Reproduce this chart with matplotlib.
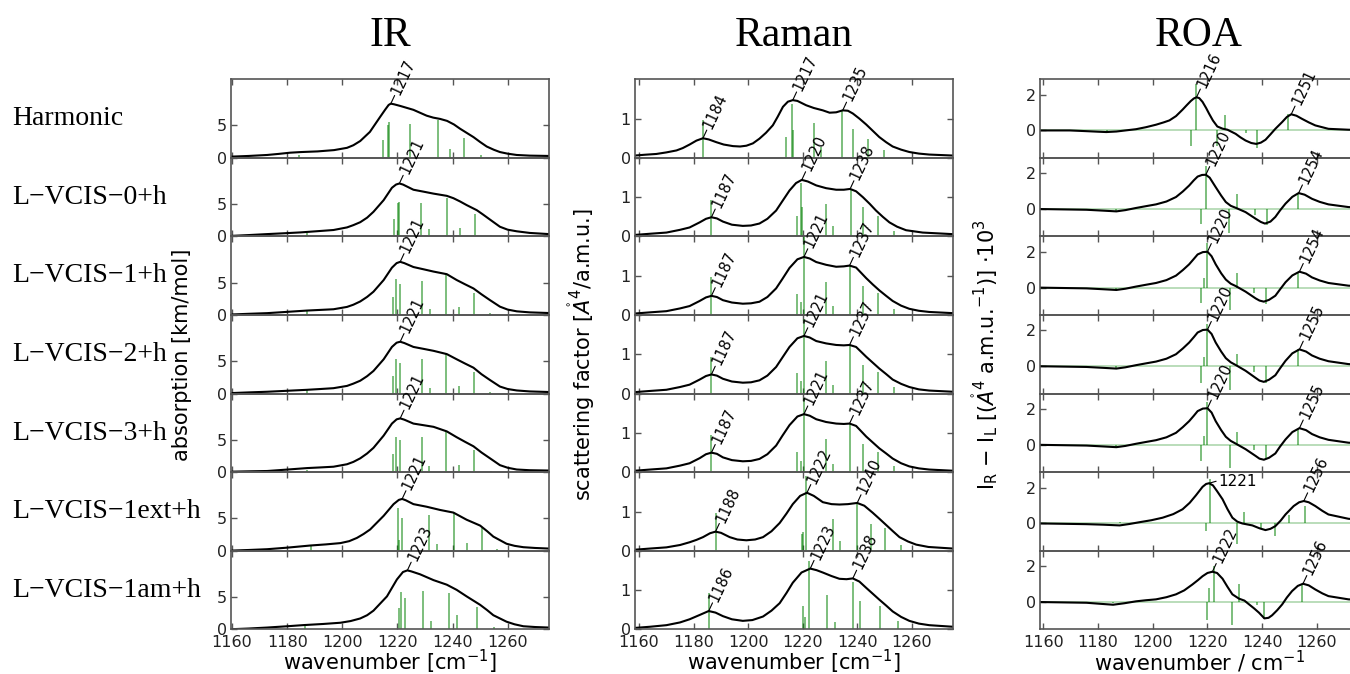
import numpy as np
import matplotlib.pyplot as plt

# ---------------------------------------------------------------- data
row_names = ['Harmonic', 'L\u2212VCIS\u22120+h', 'L\u2212VCIS\u22121+h', 'L\u2212VCIS\u22122+h',
             'L\u2212VCIS\u22123+h', 'L\u2212VCIS\u22121ext+h', 'L\u2212VCIS\u22121am+h']

# IR: broadened spectrum
ir_x_mid = [1160, 1166, 1172.7, 1180, 1187.2, 1192, 1196.8, 1201.7, 1204, 1206.5, 1209, 1211.3, 1215,
            1218, 1219.7, 1221, 1222.5, 1225.8, 1229.5, 1233.1, 1237.9, 1241.5, 1244.5, 1247.6, 1250.5,
            1253.6, 1257.2, 1260, 1263.3, 1268, 1275]
ir_curve_x = [
    [1160, 1166, 1172.7, 1177, 1181, 1185, 1191, 1197, 1201.7, 1204, 1206.5, 1210, 1213.7, 1215.5, 1216.8,
     1217.6, 1218.8, 1221, 1225.8, 1230.6, 1233, 1235.5, 1238, 1240.5, 1242.7, 1247.6, 1250, 1252.4, 1255,
     1257.2, 1260, 1263.3, 1268, 1275],
    [1160, 1166, 1172.7, 1179, 1184.8, 1188.4, 1192, 1196.8, 1201.7, 1204, 1206.5, 1209, 1211.3, 1215, 1218,
     1219.5, 1220.7, 1222, 1225.8, 1229.5, 1233.1, 1237.9, 1240.3, 1242.7, 1245.1, 1248.8, 1251, 1253.6,
     1257.2, 1260, 1263.3, 1268, 1275],
    ir_x_mid,
    ir_x_mid,
    ir_x_mid,
    [1160, 1166, 1172.7, 1180, 1188.4, 1194, 1199.3, 1202.5, 1205.3, 1207.7, 1210.1, 1215, 1218.6, 1220.5,
     1221.7, 1223, 1225.8, 1230.6, 1235.5, 1240.3, 1245.1, 1250, 1252.5, 1254.8, 1259.6, 1262.5, 1265.7,
     1270, 1275],
    [1160, 1166, 1172.7, 1180, 1186, 1193, 1199.3, 1203, 1206.5, 1209, 1211.3, 1216.2, 1219.8, 1222, 1223.6,
     1225, 1228.2, 1233.1, 1237.9, 1241.5, 1245.1, 1250, 1252.5, 1254.8, 1259.6, 1262.5, 1265.7, 1270, 1275],
]
ir_curve_y = [
    [0.2, 0.3, 0.45, 0.62, 0.8, 0.9, 1.0, 1.2, 1.55, 1.95, 2.6, 4.0, 6.3, 7.4, 8.15, 8.35, 8.25, 8.0, 7.4,
     6.5, 6.2, 6.0, 5.7, 5.15, 4.5, 3.2, 2.45, 1.75, 1.25, 0.9, 0.65, 0.45, 0.35, 0.3],
    [0.1, 0.22, 0.37, 0.5, 0.63, 0.74, 0.85, 1.0, 1.4, 1.75, 2.2, 2.9, 3.8, 5.6, 7.5, 8.0, 8.16, 8.0, 7.2,
     6.9, 6.6, 6.26, 5.9, 5.4, 4.84, 4.05, 3.4, 2.6, 1.5, 1.05, 0.8, 0.55, 0.37],
    [0.1, 0.2, 0.3, 0.5, 0.7, 0.8, 0.9, 1.26, 1.6, 2.1, 2.8, 3.6, 5.4, 7.3, 8.0, 8.2, 8.0, 7.4, 7.05, 6.7,
     6.3, 5.4, 4.75, 4.1, 3.2, 2.3, 1.3, 0.85, 0.58, 0.42, 0.32],
    [0.1, 0.2, 0.3, 0.45, 0.6, 0.72, 0.85, 1.2, 1.55, 2.0, 2.7, 3.5, 5.3, 7.2, 7.85, 8.0, 7.8, 7.2, 6.9, 6.6,
     6.1, 5.3, 4.65, 4.0, 3.0, 2.1, 1.1, 0.72, 0.5, 0.35, 0.26],
    [0.1, 0.15, 0.2, 0.42, 0.65, 0.75, 0.86, 1.24, 1.6, 2.15, 2.9, 3.76, 5.65, 7.5, 8.15, 8.3, 8.1, 7.5, 7.25,
     7.0, 6.3, 5.4, 4.7, 4.0, 3.05, 2.15, 1.1, 0.7, 0.43, 0.32, 0.27],
    [0.05, 0.14, 0.26, 0.5, 0.83, 1.0, 1.2, 1.5, 2.0, 2.6, 3.3, 5.4, 7.2, 7.85, 8.0, 7.8, 7.2, 6.8, 6.3, 5.9,
     4.8, 3.9, 3.05, 2.2, 1.1, 0.78, 0.57, 0.45, 0.36],
    [0.05, 0.15, 0.3, 0.5, 0.68, 0.85, 1.04, 1.3, 1.7, 2.2, 2.9, 5.1, 7.7, 8.85, 9.1, 8.95, 8.5, 7.6, 6.9,
     6.1, 5.1, 3.8, 3.0, 2.2, 1.2, 0.8, 0.5, 0.38, 0.3],
]
ir_stick_pos = [
    [1184.4, 1214.7, 1216.5, 1217.0, 1224.6, 1234.9, 1238.9, 1244.2, 1250.3],
    [1187.2, 1218.6, 1220.1, 1220.5, 1228.6, 1231.5, 1238.0, 1242.6, 1248.0, 1253.8],
    [1187.2, 1218.3, 1219.5, 1220.9, 1228.8, 1231.7, 1237.7, 1242.4, 1247.8, 1253.7],
    [1187.2, 1218.3, 1219.5, 1220.9, 1228.8, 1231.7, 1237.7, 1242.4, 1247.8, 1253.7],
    [1187.2, 1218.4, 1219.5, 1220.9, 1228.9, 1231.5, 1237.7, 1242.4, 1247.8, 1253.8],
    [1188.7, 1220.1, 1220.6, 1221.7, 1231.5, 1234.2, 1240.6, 1245.4, 1250.6, 1256.1],
    [1186.3, 1220.7, 1221.4, 1222.8, 1229.4, 1232.3, 1238.7, 1241.5, 1248.8, 1255.0],
]
ir_stick_h = [
    [0.5, 2.8, 5.0, 5.5, 5.2, 5.9, 1.3, 3.1, 0.5],
    [0.5, 2.7, 5.2, 5.3, 5.2, 1.1, 6.0, 1.3, 3.5, 0.26],
    [0.7, 2.8, 5.5, 4.8, 5.3, 0.95, 6.1, 1.2, 3.4, 0.26],
    [0.5, 2.7, 5.4, 4.8, 5.3, 0.9, 6.1, 1.2, 3.4, 0.26],
    [0.4, 2.85, 5.5, 5.0, 5.4, 0.9, 6.2, 1.2, 3.5, 0.27],
    [0.7, 6.6, 1.7, 5.0, 5.6, 1.1, 5.9, 1.2, 3.5, 0.3],
    [0.5, 3.3, 5.8, 4.9, 6.0, 1.3, 5.6, 2.2, 3.4, 0.4],
]
ir_peaks = [
    [(1217.6, 8.35, '1217')],
    [(1220.7, 8.16, '1221')],
    [(1221, 8.2, '1221')],
    [(1221, 8.0, '1221')],
    [(1221, 8.3, '1221')],
    [(1221.7, 8.0, '1221')],
    [(1223.6, 9.1, '1223')],
]

# Raman
raman_x_mid = [1158.4, 1164, 1170, 1175, 1178.5, 1182.2, 1184.5, 1186.5, 1188.5, 1190.7, 1194, 1198, 1201,
               1204.1, 1207, 1210.2, 1212.5, 1215.1, 1218, 1220.4, 1222.5, 1224.9, 1228.5, 1232.2, 1235,
               1237.1, 1239.5, 1243.2, 1245.6, 1248, 1250.5, 1252.9, 1256, 1259, 1262.5, 1266.3, 1274.9]
raman_curve_x = [
    [1158.4, 1162, 1166.3, 1170, 1173.7, 1176, 1178.5, 1181, 1183.4, 1185.5, 1188.3, 1191, 1194.4, 1197,
     1199.3, 1201.7, 1204.1, 1206.5, 1209, 1210.8, 1212.7, 1214.5, 1216.3, 1218, 1221.2, 1224, 1227.3,
     1229.8, 1232.2, 1234.6, 1236.5, 1238.3, 1240.7, 1243.2, 1245.6, 1248, 1250.5, 1252.9, 1256, 1259,
     1262.5, 1266.3, 1274.9],
    [1158.4, 1164, 1170, 1175, 1178.5, 1182.2, 1184.5, 1186.5, 1188.5, 1190.7, 1194, 1198, 1201, 1204.1,
     1207, 1210.2, 1212.5, 1215.1, 1217.5, 1219.6, 1221.8, 1224.9, 1228.5, 1232.2, 1235, 1237.3, 1239.5,
     1242, 1244.5, 1246.8, 1249.3, 1251.7, 1254.5, 1257.8, 1263.9, 1274.9],
    raman_x_mid,
    raman_x_mid,
    raman_x_mid,
    [1158.4, 1164, 1170, 1175, 1178.5, 1181, 1183.4, 1186, 1188, 1190, 1193.2, 1196, 1199.3, 1202.5, 1205.4,
     1208.5, 1211.5, 1214, 1216.3, 1219, 1221.5, 1224, 1227.3, 1230.5, 1233.4, 1236.5, 1239.9, 1242.5,
     1245.6, 1248, 1250.5, 1253, 1255.4, 1258.5, 1261.5, 1266, 1274.9],
    [1158.4, 1164, 1170, 1175, 1178.5, 1182.2, 1185.5, 1188, 1190.7, 1194, 1198, 1201.5, 1205.4, 1208.5,
     1211.5, 1214, 1216.3, 1219.5, 1222.7, 1225, 1227.3, 1230.5, 1233.4, 1236, 1238.3, 1240.7, 1243.2,
     1245.6, 1248, 1250.5, 1252.9, 1256, 1259, 1262.5, 1266.3, 1274.9],
]
raman_curve_y = [
    [0.06, 0.08, 0.1, 0.14, 0.19, 0.25, 0.34, 0.44, 0.5, 0.47, 0.4, 0.34, 0.3, 0.29, 0.31, 0.37, 0.49, 0.64,
     0.83, 1.05, 1.3, 1.43, 1.47, 1.45, 1.34, 1.27, 1.21, 1.15, 1.16, 1.21, 1.2, 1.13, 1.0, 0.85, 0.69,
     0.53, 0.4, 0.29, 0.21, 0.15, 0.11, 0.085, 0.06],
    [0.04, 0.07, 0.1, 0.17, 0.23, 0.36, 0.45, 0.49, 0.46, 0.38, 0.3, 0.27, 0.28, 0.33, 0.45, 0.66, 0.9, 1.17,
     1.36, 1.44, 1.4, 1.3, 1.23, 1.19, 1.19, 1.21, 1.15, 1.0, 0.83, 0.66, 0.5, 0.36, 0.25, 0.16, 0.1, 0.06],
    [0.04, 0.07, 0.1, 0.17, 0.23, 0.36, 0.45, 0.49, 0.46, 0.38, 0.32, 0.29, 0.3, 0.34, 0.46, 0.68, 0.92,
     1.2, 1.42, 1.48, 1.44, 1.35, 1.28, 1.23, 1.24, 1.26, 1.21, 0.94, 0.78, 0.63, 0.49, 0.36, 0.24, 0.16,
     0.11, 0.08, 0.05],
    [0.04, 0.07, 0.1, 0.17, 0.23, 0.36, 0.45, 0.49, 0.46, 0.38, 0.31, 0.28, 0.29, 0.34, 0.46, 0.68, 0.92,
     1.19, 1.41, 1.47, 1.43, 1.34, 1.28, 1.24, 1.23, 1.24, 1.19, 0.94, 0.79, 0.64, 0.5, 0.36, 0.25, 0.17,
     0.11, 0.08, 0.05],
    [0.04, 0.07, 0.1, 0.17, 0.23, 0.36, 0.46, 0.5, 0.47, 0.38, 0.31, 0.28, 0.29, 0.34, 0.46, 0.68, 0.93, 1.2,
     1.42, 1.48, 1.44, 1.35, 1.28, 1.24, 1.23, 1.24, 1.18, 0.91, 0.76, 0.61, 0.48, 0.35, 0.23, 0.15, 0.1,
     0.07, 0.04],
    [0.03, 0.06, 0.09, 0.15, 0.22, 0.28, 0.35, 0.45, 0.49, 0.46, 0.35, 0.29, 0.27, 0.29, 0.35, 0.5, 0.71,
     0.95, 1.19, 1.4, 1.48, 1.4, 1.24, 1.19, 1.18, 1.19, 1.22, 1.15, 0.97, 0.82, 0.66, 0.5, 0.35, 0.24,
     0.16, 0.1, 0.06],
    [0.04, 0.07, 0.11, 0.18, 0.26, 0.37, 0.47, 0.43, 0.34, 0.26, 0.22, 0.24, 0.33, 0.48, 0.67, 0.93, 1.19,
     1.45, 1.55, 1.51, 1.45, 1.36, 1.29, 1.28, 1.3, 1.22, 1.06, 0.91, 0.76, 0.61, 0.46, 0.32, 0.22, 0.15,
     0.11, 0.07],
]
raman_pos_mid = [1186.5, 1217.9, 1219.2, 1220.3, 1228.4, 1231.1, 1237.2, 1242.1, 1247.6, 1253.4]
raman_stick_pos = [
    [1183.4, 1214.0, 1215.9, 1216.5, 1223.9, 1226.7, 1234.3, 1238.5, 1243.8, 1249.9],
    [1186.5, 1217.9, 1219.3, 1219.8, 1228.3, 1231.1, 1237.6, 1242.2, 1247.6, 1253.4],
    raman_pos_mid,
    raman_pos_mid,
    raman_pos_mid,
    [1188.0, 1219.8, 1220.0, 1221.2, 1230.9, 1233.5, 1239.9, 1245.1, 1250.2, 1256.0],
    [1185.5, 1220.2, 1220.7, 1222.4, 1228.9, 1231.8, 1238.4, 1241.1, 1248.4, 1254.9],
]
raman_stick_h = [
    [0.96, 0.53, 1.38, 0.72, 0.89, 0.27, 1.21, 0.74, 0.49, 0.21],
    [0.93, 0.52, 1.36, 0.74, 0.83, 0.26, 1.21, 0.74, 0.53, 0.15],
    [0.96, 0.53, 0.33, 2.0, 0.83, 0.23, 1.26, 0.74, 0.55, 0.16],
    [0.94, 0.53, 0.32, 1.9, 0.84, 0.23, 1.24, 0.73, 0.55, 0.17],
    [0.96, 0.52, 0.3, 1.9, 0.84, 0.22, 1.26, 0.72, 0.52, 0.16],
    [0.96, 0.44, 0.47, 1.9, 0.8, 0.25, 1.24, 0.68, 0.58, 0.16],
    [0.93, 0.59, 0.33, 1.75, 0.89, 0.2, 1.2, 0.73, 0.59, 0.22],
]
raman_peaks = [
    [(1183.4, 0.5, '1184'), (1216.3, 1.47, '1217'), (1234.6, 1.21, '1235')],
    [(1186.5, 0.49, '1187'), (1219.6, 1.44, '1220'), (1237.3, 1.21, '1238')],
    [(1186.5, 0.49, '1187'), (1220.4, 1.48, '1221'), (1237.1, 1.26, '1237')],
    [(1186.5, 0.49, '1187'), (1220.4, 1.47, '1221'), (1237.1, 1.24, '1237')],
    [(1186.5, 0.5, '1187'), (1220.4, 1.48, '1221'), (1237.1, 1.24, '1237')],
    [(1188.0, 0.49, '1188'), (1221.5, 1.48, '1222'), (1239.9, 1.22, '1240')],
    [(1185.5, 0.47, '1186'), (1222.7, 1.55, '1223'), (1238.3, 1.3, '1238')],
]

# ROA
roa_x_mid = [1158.8, 1175.8, 1182, 1186.7, 1190, 1193.9, 1197.5, 1201.2, 1205, 1208.5, 1211, 1213.3, 1215,
             1216.4, 1218.3, 1220, 1221.5, 1223, 1225, 1226.7, 1228.5, 1230.3, 1233.9, 1237.6, 1239, 1240.6,
             1242.5, 1244.8, 1246.5, 1248.5, 1251, 1253.6, 1256, 1258.2, 1261, 1264.2, 1271.5, 1276]
roa_curve_x = [
    [1158.8, 1169.7, 1175.8, 1180, 1183, 1186.7, 1190, 1193.9, 1197.5, 1201.2, 1204, 1206.1, 1208.5, 1210.9,
     1212.5, 1213.9, 1215, 1216, 1217, 1218.2, 1219.5, 1220.6, 1222, 1223.6, 1225.5, 1227.3, 1230.3, 1232,
     1233.9, 1236, 1237.8, 1239.5, 1241.2, 1243, 1244.8, 1247.3, 1249, 1250.6, 1252.5, 1254.5, 1257,
     1259.4, 1264.2, 1271.5, 1276],
    [1158.8, 1175.8, 1182, 1186.7, 1190, 1193.9, 1197.5, 1201.2, 1205, 1208.5, 1211, 1213.3, 1215, 1216.4,
     1218, 1219.4, 1220.8, 1223, 1225, 1226.7, 1228.5, 1230.3, 1233.9, 1237.6, 1239.5, 1241, 1243, 1244.8,
     1246.5, 1248.5, 1251, 1253.3, 1255.5, 1258.2, 1261, 1264.2, 1271.5, 1276],
    roa_x_mid,
    roa_x_mid,
    roa_x_mid,
    [1158.8, 1175.8, 1182, 1187.9, 1191.5, 1195.2, 1199.5, 1203.6, 1207.5, 1210.9, 1213.5, 1215.8, 1218.2,
     1219.5, 1220.6, 1222, 1223.5, 1225.5, 1227.3, 1229.1, 1230.9, 1232.7, 1236.4, 1239, 1241.2, 1243,
     1244.8, 1246.7, 1248.5, 1251.5, 1253.5, 1255.2, 1257, 1259.4, 1262, 1264.2, 1271.5, 1276],
    [1158.8, 1175.8, 1181, 1185.5, 1189.5, 1193.9, 1197.5, 1201.2, 1205, 1208.5, 1211.5, 1214.5, 1216.5,
     1218.2, 1220, 1221.8, 1223.5, 1225.5, 1227.3, 1229.1, 1231.5, 1233.5, 1235.2, 1237, 1238.8, 1240.8,
     1242.3, 1243.6, 1245.5, 1247.3, 1249, 1250.9, 1253, 1254.9, 1257, 1259.4, 1262, 1264.2, 1271.5, 1276],
]
roa_curve_y = [
    [0, 0, -0.04, -0.07, -0.09, -0.06, 0.0, 0.07, 0.18, 0.32, 0.45, 0.56, 0.8, 1.16, 1.42, 1.64, 1.78, 1.85,
     1.8, 1.59, 1.25, 0.93, 0.55, 0.22, 0.1, 0.04, -0.19, -0.38, -0.56, -0.7, -0.75, -0.68, -0.52, -0.22,
     0.09, 0.47, 0.75, 0.9, 0.82, 0.65, 0.45, 0.28, 0.09, 0.04, 0.03],
    [0, -0.04, -0.09, -0.13, -0.06, 0.06, 0.16, 0.26, 0.42, 0.67, 0.98, 1.31, 1.6, 1.81, 1.9, 1.91, 1.75,
     1.22, 0.75, 0.39, 0.18, 0.07, -0.17, -0.54, -0.72, -0.81, -0.7, -0.44, -0.08, 0.3, 0.68, 0.89, 0.8,
     0.57, 0.4, 0.26, 0.11, 0.08],
    [0, -0.04, -0.09, -0.13, -0.06, 0.06, 0.16, 0.26, 0.42, 0.67, 0.98, 1.3, 1.6, 1.85, 1.98, 2.0, 1.75, 1.3,
     0.8, 0.45, 0.22, 0.09, -0.22, -0.6, -0.72, -0.78, -0.68, -0.45, -0.1, 0.3, 0.68, 0.89, 0.78, 0.57,
     0.4, 0.26, 0.11, 0.08],
    [0, -0.04, -0.09, -0.13, -0.06, 0.06, 0.16, 0.26, 0.42, 0.67, 0.99, 1.32, 1.62, 1.88, 2.02, 2.04, 1.8,
     1.32, 0.82, 0.45, 0.22, 0.07, -0.25, -0.65, -0.8, -0.87, -0.75, -0.5, -0.12, 0.3, 0.72, 0.94, 0.82,
     0.6, 0.42, 0.28, 0.12, 0.08],
    [0, -0.04, -0.09, -0.13, -0.06, 0.06, 0.16, 0.26, 0.42, 0.67, 0.99, 1.32, 1.62, 1.88, 2.02, 2.04, 1.8,
     1.32, 0.82, 0.45, 0.22, 0.07, -0.24, -0.62, -0.77, -0.83, -0.72, -0.48, -0.1, 0.3, 0.71, 0.93, 0.82,
     0.6, 0.42, 0.28, 0.12, 0.08],
    [0, -0.04, -0.07, -0.11, -0.03, 0.07, 0.18, 0.32, 0.52, 0.79, 1.15, 1.57, 2.04, 2.2, 2.24, 2.12, 1.8,
     1.35, 0.8, 0.32, 0.1, 0, -0.11, -0.27, -0.37, -0.3, -0.15, 0.15, 0.5, 0.97, 1.18, 1.25, 1.18, 0.97,
     0.7, 0.5, 0.26, 0.2],
    [0, -0.04, -0.1, -0.15, -0.07, 0.04, 0.1, 0.15, 0.27, 0.43, 0.65, 0.98, 1.22, 1.44, 1.62, 1.69, 1.62,
     1.3, 0.85, 0.43, 0.19, 0.08, -0.13, -0.35, -0.59, -0.91, -0.88, -0.74, -0.45, -0.13, 0.25, 0.61, 0.9,
     1.02, 0.93, 0.7, 0.48, 0.33, 0.15, 0.12],
]
roa_pos_mid = [1186.4, 1217.6, 1218.9, 1220.0, 1228.1, 1230.9, 1237.0, 1241.5, 1253.1]
roa_stick_pos = [
    [1183.3, 1213.9, 1215.8, 1223.6, 1226.4, 1234.2, 1238.1, 1249.6],
    [1186.4, 1217.6, 1219.4, 1227.9, 1230.7, 1237.3, 1241.8, 1253.1],
    roa_pos_mid,
    roa_pos_mid,
    roa_pos_mid,
    [1187.9, 1219.6, 1220.8, 1230.7, 1233.3, 1239.6, 1244.6, 1249.9, 1255.5],
    [1185.5, 1220.0, 1220.6, 1222.2, 1228.8, 1231.6, 1238.2, 1240.8, 1254.5],
]
roa_stick_h = [
    [-0.1, -0.84, 2.6, -0.84, 0.84, -0.13, -1.0, 0.9],
    [-0.1, -0.85, 2.4, -1.33, 0.85, -0.35, -0.9, 0.89],
    [-0.1, -0.83, 0.52, 2.46, -1.24, 0.8, -0.31, -0.9, 0.89],
    [-0.1, -0.93, 0.52, 2.37, -1.33, 0.7, -0.31, -0.96, 0.94],
    [-0.1, -0.89, 0.5, 2.4, -1.3, 0.7, -0.28, -0.8, 0.89],
    [0.07, -0.43, 2.47, -1.12, 0.64, -0.3, -0.71, 0.45, 0.97],
    [-0.05, -1.0, 0.8, 2.0, -1.3, 0.98, -0.19, -0.96, 1.02],
]
roa_peaks = [
    [(1216.0, 1.85, '1216'), (1250.6, 0.9, '1251')],
    [(1219.4, 1.91, '1220'), (1253.3, 0.89, '1254')],
    [(1220.0, 2.0, '1220'), (1253.6, 0.89, '1254')],
    [(1220.0, 2.04, '1220'), (1253.6, 0.94, '1255')],
    [(1220.0, 2.04, '1220'), (1253.6, 0.93, '1255')],
    [(1220.6, 2.24, '1221'), (1255.2, 1.25, '1256')],
    [(1221.8, 1.69, '1222'), (1254.9, 1.02, '1256')],
]
roa_flat_label = (5, 0)  # (row, peak index) with a horizontal label

# ---------------------------------------------------------------- layout
W, H = 1350, 674
TOP, ROWH = 79.3, 78.6
COL_LEFT = [231, 635, 1040]
COL_W = 318
SPINE = '#555555'
STICK = (0.0, 0.5, 0.0, 0.65)

fig = plt.figure(figsize=(W / 100, H / 100), dpi=100)


def make_ax(col, row, xlim, ylim, yticks):
    b = 1 - (TOP + (row + 1) * ROWH) / H
    ax = fig.add_axes([COL_LEFT[col] / W, b, COL_W / W, ROWH / H])
    ax.set_facecolor('none')
    ax.set_xlim(*xlim)
    ax.set_ylim(*ylim)
    ax.set_yticks(yticks)
    ax.set_xticks(range(1160, 1261, 20))
    for s in ax.spines.values():
        s.set_color(SPINE)
        s.set_linewidth(1.2)
    ax.tick_params(direction='in', top=True, right=True, length=4, width=1,
                   color=SPINE, labelsize=11.5, labelcolor='#222222', pad=3)
    ax.tick_params(axis='x', pad=4)
    if row < 6:
        ax.tick_params(labelbottom=False)
    return ax


def peak_label(ax, x, y, text, rot=65):
    a = np.radians(rot)
    c, s = np.cos(a), np.sin(a)
    ax.annotate('', xy=(x, y), xytext=(9 * c, 9 * s), textcoords='offset pixels',
                arrowprops=dict(arrowstyle='-', lw=0.8, color='k', shrinkA=0, shrinkB=0),
                annotation_clip=False)
    ax.annotate(text, xy=(x, y), xytext=(11 * c, 11 * s), textcoords='offset pixels',
                rotation=rot, rotation_mode='anchor', ha='left', va='center',
                fontsize=10.5, annotation_clip=False)


def flat_label(ax, x, y, text):
    ax.annotate('', xy=(x, y), xytext=(7, 2), textcoords='offset pixels',
                arrowprops=dict(arrowstyle='-', lw=0.8, color='k', shrinkA=0, shrinkB=0),
                annotation_clip=False)
    ax.annotate(text, xy=(x, y), xytext=(9, 2), textcoords='offset pixels',
                ha='left', va='center', fontsize=11, annotation_clip=False)


for r in range(7):
    # IR
    ax = make_ax(0, r, (1159.6, 1275), (0, 12.1), [0, 5])
    ax.vlines(ir_stick_pos[r], 0, ir_stick_h[r], color=STICK, lw=1.1)
    ax.plot(ir_curve_x[r], ir_curve_y[r], color='k', lw=1.5, solid_joinstyle='round')
    for x, y, t in ir_peaks[r]:
        peak_label(ax, x, y, t)
    if r == 3:
        ax.set_ylabel('absorption [km/mol]', fontsize=15)
        ax.yaxis.set_label_coords(-0.123, 0.5)

    # Raman
    ax = make_ax(1, r, (1158.5, 1275), (0, 2.0), [0, 1])
    ax.vlines(raman_stick_pos[r], 0, raman_stick_h[r], color=STICK, lw=1.1)
    ax.plot(raman_curve_x[r], raman_curve_y[r], color='k', lw=1.5, solid_joinstyle='round')
    for x, y, t in raman_peaks[r]:
        peak_label(ax, x, y, t)
    if r == 3:
        ax.set_ylabel(r'scattering factor [$\mathring{A}^4$/a.m.u.]', fontsize=15)
        ax.yaxis.set_label_coords(-0.12, 0.5)

    # ROA
    ax = make_ax(2, r, (1158.8, 1275), (-1.53, 2.85), [0, 2])
    ax.axhline(0, color=(0.0, 0.5, 0.0, 0.35), lw=1.1)
    ax.vlines(roa_stick_pos[r], 0, roa_stick_h[r], color=STICK, lw=1.1)
    ax.plot(roa_curve_x[r], roa_curve_y[r], color='k', lw=1.5, solid_joinstyle='round')
    for i, (x, y, t) in enumerate(roa_peaks[r]):
        if (r, i) == roa_flat_label:
            flat_label(ax, x, y, t)
        else:
            peak_label(ax, x, y, t)
    if r == 3:
        ax.set_ylabel(r'$\mathrm{I_R}$ $-$ $\mathrm{I_L}$ [($\mathring{A}^4$ a.m.u.$^{-1}$)] $\cdot10^3$',
                      fontsize=15)
        ax.yaxis.set_label_coords(-0.126, 0.5)

    # row label
    yc = 1 - (TOP + (r + 0.5) * ROWH) / H
    fig.text(12 / W, yc, row_names[r], fontsize=20, family='Liberation Serif',
             ha='left', va='center')

# column titles
for col, title in enumerate(['IR', 'Raman', 'ROA']):
    xc = (COL_LEFT[col] + COL_W / 2) / W
    fig.text(xc, 1 - 36 / H, title, fontsize=30, family='Liberation Serif',
             ha='center', va='center')

# x labels
xlabels = [r'wavenumber [cm$^{-1}$]', r'wavenumber [cm$^{-1}$]', r'wavenumber / cm$^{-1}$']
for col, lab in enumerate(xlabels):
    xc = (COL_LEFT[col] + COL_W / 2) / W
    fig.text(xc, 1 - 662 / H, lab, fontsize=15, ha='center', va='center')

fig.savefig('out.png', dpi=100)
